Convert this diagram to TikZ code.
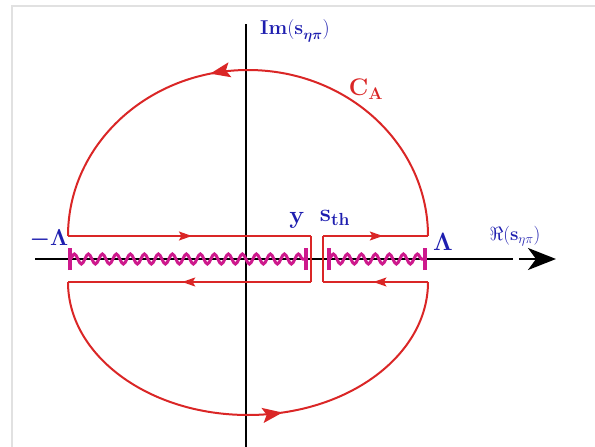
\RequirePackage{fix-cm}
\documentclass[tikz,border=0pt]{standalone}
\usepackage{amsmath,amssymb,bm}
\usetikzlibrary{arrows.meta,decorations.markings,decorations.pathmorphing}
\definecolor{cred}{RGB}{218,38,38}
\definecolor{cblue}{RGB}{30,30,175}
\definecolor{cmag}{RGB}{205,25,140}
\definecolor{cframe}{RGB}{225,225,225}
\newcommand{\fsz}[1]{\fontsize{#1}{#1}\selectfont}
\begin{document}
\begin{tikzpicture}[x=1pt,y=-1pt,
  frame/.style={draw=cframe, line width=2pt},
  axisline/.style={draw=black, line width=2.6pt},
  contour/.style={draw=cred, line width=1.5pt},
  arcline/.style={draw=cred, line width=2pt},
  smallarrow/.style={postaction={decorate},decoration={markings,mark=at position #1 with {\arrow{Stealth[length=13pt,width=9pt,inset=2.5pt]}}}},
  bigarrow/.style={postaction={decorate},decoration={markings,mark=at position #1 with {\arrow{Stealth[length=20pt,width=15pt,inset=4pt]}}}},
  wavy/.style={draw=cmag, line width=3pt, decorate, decoration={snake, segment length=14pt, amplitude=5pt}},
  tick/.style={draw=cmag, line width=3.5pt},
  lab/.style={text=cblue, inner sep=0pt},
]
\useasboundingbox (0,0) rectangle (595,447);
% frame
\coordinate (f1) at (11.5,447);
\coordinate (f2) at (11.5,6);
\coordinate (f3) at (595,6);
\draw[frame] (f1) -- (f2) -- (f3);
% axes
\coordinate (xs) at (35,259);
\coordinate (xe) at (513,259);
\coordinate (xd) at (519,259);
\coordinate (xt) at (556,259);
\coordinate (ys) at (246,447);
\coordinate (ye) at (246,24);
\draw[axisline] (xs) -- (xe);
\draw[axisline, -{Stealth[length=28pt,width=22pt,inset=8pt]}] (xd) -- (xt);
\draw[axisline] (ys) -- (ye);
% wavy cuts
\coordinate (w1) at (70,259);
\coordinate (w2) at (306,259);
\coordinate (w3) at (329,259);
\coordinate (w4) at (425,259);
\draw[wavy] (w1) -- (w2);
\draw[wavy] (w3) -- (w4);
\foreach \p in {w1,w2,w3,w4}{
  \draw[tick] ([yshift=-11pt]\p) -- ([yshift=11pt]\p);
}
% contour
\coordinate (UL) at (68,236);
\coordinate (UR) at (428,236);
\coordinate (LL) at (68,282);
\coordinate (LR) at (428,282);
\coordinate (K1) at (311,236);
\coordinate (K2) at (311,282);
\coordinate (K3) at (323,236);
\coordinate (K4) at (323,282);
\draw[arcline, bigarrow=0.57] (UR) arc[start angle=0, end angle=180, x radius=180pt, y radius=166pt];
\draw[arcline, bigarrow=0.57] (LL) arc[start angle=180, end angle=360, x radius=180pt, y radius=133pt];
\draw[contour, smallarrow=0.51] (UL) -- (K1);
\draw[contour] (K1) -- (K2);
\draw[contour, smallarrow=0.53] (K2) -- (LL);
\draw[contour, smallarrow=0.57] (K3) -- (UR);
\draw[contour] (K3) -- (K4);
\draw[contour, smallarrow=0.52] (LR) -- (K4);
% labels
\node[lab, font=\fsz{20}] (im) at (295,31) {$\mathbf{Im(s}_{\bm{\eta\pi}}\mathbf{)}$};
\node[lab, text=cred, font=\fsz{24}] (ca) at (366,89) {$\mathbf{C_A}$};
\node[lab, font=\fsz{23}] (ml) at (49,239) {$\bm{-\Lambda}$};
\node[lab, font=\fsz{25}] (yy) at (297,220) {$\mathbf{y}$};
\node[lab, font=\fsz{25}] (sth) at (335,218) {$\mathbf{s_{th}}$};
\node[lab, font=\fsz{25}] (pl) at (443,242) {$\bm{\Lambda}$};
\node[lab, font=\fsz{19}] (re) at (515,236) {$\Re(\mathbf{s}_{\eta\pi})$};
\end{tikzpicture}
\end{document}
